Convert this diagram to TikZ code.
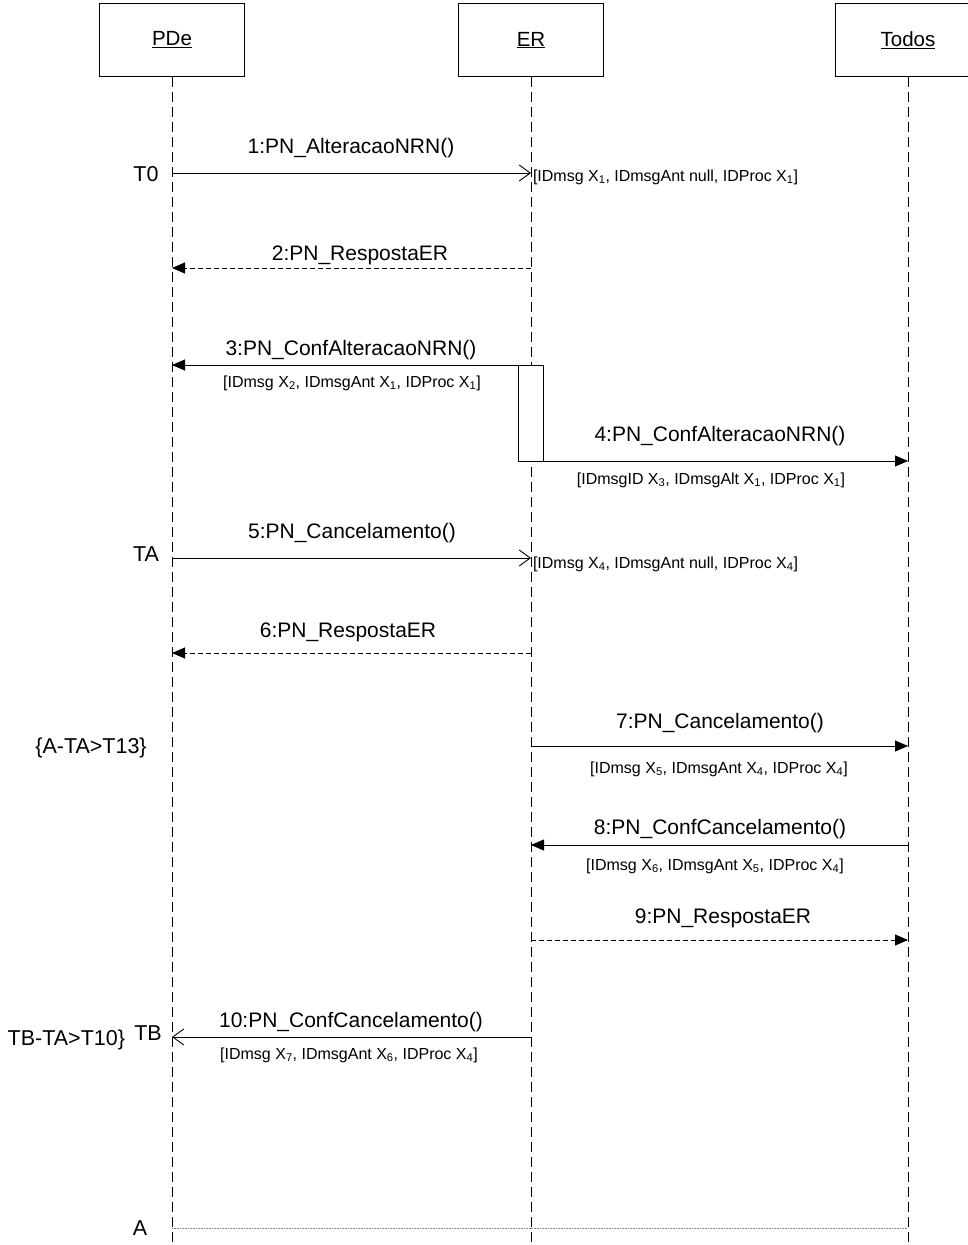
\documentclass[tikz,border=0pt]{standalone}
\usepackage{fontspec}
\setmainfont{Liberation Sans}
\usetikzlibrary{arrows.meta}
\begin{document}
\begin{tikzpicture}[x=1pt,y=-1pt,
  every node/.style={inner sep=0pt, outer sep=0pt},
  actor/.style={draw, line width=1.1pt, minimum width=145pt, minimum height=73pt, font=\fontsize{20.5}{24}\selectfont},
  lifeline/.style={line width=0.9pt, dash pattern=on 10pt off 5pt},
  msg/.style={line width=0.9pt},
  reply/.style={line width=0.9pt, dash pattern=on 5pt off 3pt},
  fhead/.style={-{Triangle[length=13pt,width=11pt]}},
  ohead/.style={-{Straight Barb[length=11pt,width=16pt,line width=0.9pt]}},
  lbl/.style={anchor=base, font=\fontsize{21}{24}\selectfont},
  cond/.style={anchor=base, font=\fontsize{16}{18}\selectfont},
  side/.style={anchor=base, font=\fontsize{21.5}{24}\selectfont},
  activation/.style={draw, fill=white, line width=0.9pt}
]
\useasboundingbox (0,0) rectangle (968,1245);
\clip (0,0) rectangle (968,1245);

% participants
\node[actor] (pde) at (172,40) {\underline{PDe}};
\node[actor] (er) at (531,40) {\underline{ER}};
\node[actor] (todos) at (908,40) {\underline{Todos}};

% lifeline ends
\coordinate (pdeEnd) at (172,1245);
\coordinate (erEnd) at (531,1245);
\coordinate (todosEnd) at (908,1245);
\draw[lifeline] (pde.south) -- (pdeEnd);
\draw[lifeline] (er.south) -- (erEnd);
\draw[lifeline] (todos.south) -- (todosEnd);

% points on the lifelines
\coordinate (p1) at (172,173);  \coordinate (e1) at (531,173);
\coordinate (p2) at (172,268);  \coordinate (e2) at (531,268);
\coordinate (p3) at (172,365);
\coordinate (t4) at (908,461);
\coordinate (p5) at (172,558);  \coordinate (e5) at (531,558);
\coordinate (p6) at (172,653);  \coordinate (e6) at (531,653);
\coordinate (e7) at (531,746);  \coordinate (t7) at (908,746);
\coordinate (e8) at (531,845);  \coordinate (t8) at (908,845);
\coordinate (e9) at (531,940);  \coordinate (t9) at (908,940);
\coordinate (p10) at (172,1037); \coordinate (e10) at (531,1037);
\coordinate (pA) at (172,1228); \coordinate (eA) at (531,1228); \coordinate (tA) at (908,1228);

% activation on ER
\node[activation, anchor=north west, minimum width=25pt, minimum height=96pt] (act) at (518,365) {};
\coordinate (act3) at (act.north west);
\coordinate (act4) at (act.south east);

% messages
\draw[msg, ohead] (p1) -- (e1);
\node[lbl] at (351,153) {1:PN\_AlteracaoNRN()};
\node[cond, anchor=base west] at (533,181) {[IDmsg X\textsubscript{1}, IDmsgAnt null, IDProc X\textsubscript{1}]};
\node[side] at (146,181) {T0};

\draw[reply, fhead] (e2) -- (p2);
\node[lbl] at (360,260) {2:PN\_RespostaER};

\draw[msg, fhead] (act3) -- (p3);
\node[lbl] at (351,355) {3:PN\_ConfAlteracaoNRN()};
\node[cond] at (352,387) {[IDmsg X\textsubscript{2}, IDmsgAnt X\textsubscript{1}, IDProc X\textsubscript{1}]};

\draw[msg, fhead] (act4) -- (t4);
\node[lbl] at (720,441) {4:PN\_ConfAlteracaoNRN()};
\node[cond] at (711,484) {[IDmsgID X\textsubscript{3}, IDmsgAlt X\textsubscript{1}, IDProc X\textsubscript{1}]};

\draw[msg, ohead] (p5) -- (e5);
\node[lbl] at (352,538) {5:PN\_Cancelamento()};
\node[cond, anchor=base west] at (533,568) {[IDmsg X\textsubscript{4}, IDmsgAnt null, IDProc X\textsubscript{4}]};
\node[side] at (146,561) {TA};

\draw[reply, fhead] (e6) -- (p6);
\node[lbl] at (348,637) {6:PN\_RespostaER};

\draw[msg, fhead] (e7) -- (t7);
\node[lbl] at (720,728) {7:PN\_Cancelamento()};
\node[cond] at (719,773) {[IDmsg X\textsubscript{5}, IDmsgAnt X\textsubscript{4}, IDProc X\textsubscript{4}]};
\node[side] at (91,753) {\{A-TA>T13\}};

\draw[msg, fhead] (t8) -- (e8);
\node[lbl] at (720,834) {8:PN\_ConfCancelamento()};
\node[cond] at (715,870) {[IDmsg X\textsubscript{6}, IDmsgAnt X\textsubscript{5}, IDProc X\textsubscript{4}]};

\draw[reply, fhead] (e9) -- (t9);
\node[lbl] at (723,923) {9:PN\_RespostaER};

\draw[msg, ohead] (e10) -- (p10);
\node[lbl] at (351,1027) {10:PN\_ConfCancelamento()};
\node[cond] at (349,1059) {[IDmsg X\textsubscript{7}, IDmsgAnt X\textsubscript{6}, IDProc X\textsubscript{4}]};
\node[side] at (148,1040) {TB};
\node[side, anchor=base east] at (125,1045) {TB-TA>T10\}};

% deadline A
\draw[gray, line width=0.8pt, dash pattern=on 1pt off 0.6pt] (pA) -- (eA) -- (tA);
\node[side] at (140,1235) {A};
\end{tikzpicture}
\end{document}
